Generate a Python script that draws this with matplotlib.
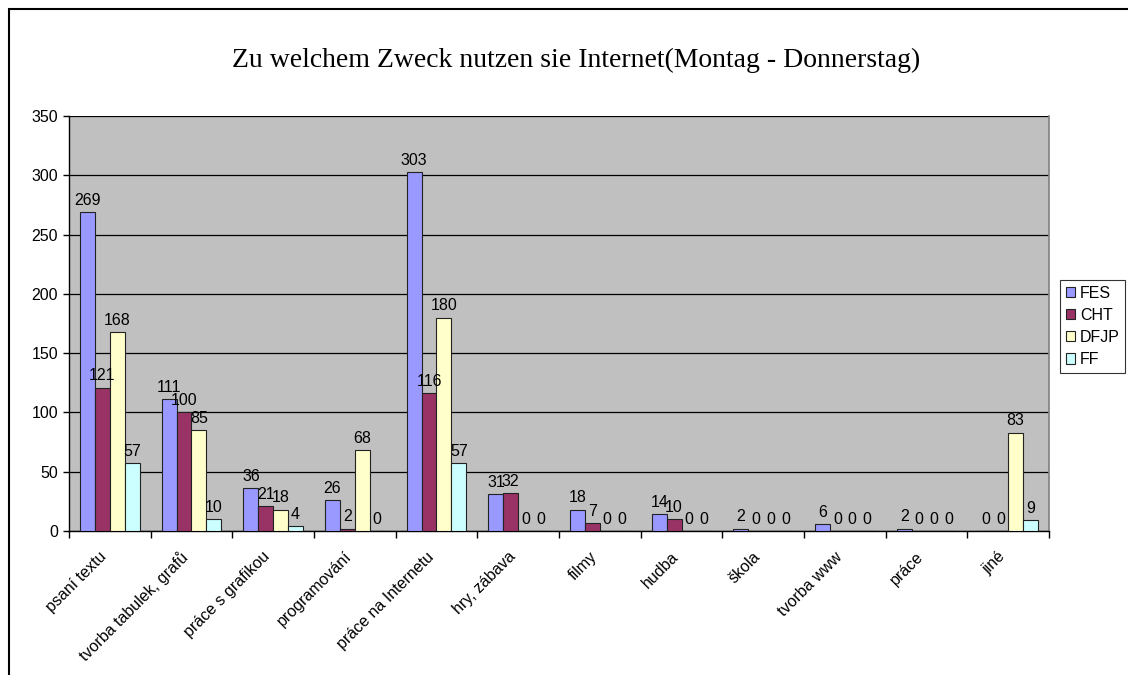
import numpy as np
import matplotlib
matplotlib.use("Agg")
import matplotlib.pyplot as plt
from matplotlib.patches import Rectangle

categories = ["psaní textu", "tvorba tabulek, grafů", "práce s grafikou", "programování",
              "práce na Internetu", "hry, zábava", "filmy", "hudba", "škola",
              "tvorba www", "práce", "jiné"]
series_names = ["FES", "CHT", "DFJP", "FF"]
fes = [269, 111, 36, 26, 303, 31, 18, 14, 2, 6, 2, 0]
cht = [121, 100, 21, 2, 116, 32, 7, 10, 0, 0, 0, 0]
dfjp = [168, 85, 18, 68, 180, 0, 0, 0, 0, 0, 0, 83]
ff = [57, 10, 4, 0, 57, 0, 0, 0, 0, 0, 0, 9]
colors = ["#9999FF", "#993366", "#FFFFCC", "#CCFFFF"]

plt.rcParams['font.family'] = ['Liberation Sans', 'DejaVu Sans']
fs = 11.5

W, H = 1128, 675
fig = plt.figure(figsize=(W / 100, H / 100), dpi=100)

# chart area border (Excel style)
fig.add_artist(Rectangle((9 / W, -0.1), 1.2, (H - 9) / H + 0.1, transform=fig.transFigure,
                         fill=False, edgecolor="black", linewidth=1.5))

# plot area: x 69..1049, y 116..531
ax = fig.add_axes([69 / W, 1 - 531 / H, (1049 - 69) / W, (531 - 116) / H])
ax.set_facecolor("#C0C0C0")

n = len(categories)
x = np.arange(n)
bw = 1 / 5.5
data = [fes, cht, dfjp, ff]
for i, (name, vals, c) in enumerate(zip(series_names, data, colors)):
    pos = x + (i - 1.5) * bw
    ax.bar(pos, vals, width=bw, color=c, edgecolor="#222222", linewidth=0.8,
           label=name, zorder=3)
    for p, v in zip(pos, vals):
        ax.annotate(str(v), (p, v), xytext=(0, 3), textcoords="offset points",
                    ha="center", va="bottom", fontsize=fs, zorder=4)

ax.set_xlim(-0.5, n - 0.5)
ax.set_ylim(0, 350)
ax.set_yticks(np.arange(0, 351, 50))
ax.yaxis.grid(True, color="black", linewidth=0.9, zorder=1)
ax.set_axisbelow(True)

ax.set_xticks(np.arange(n + 1) - 0.5)
ax.set_xticklabels([])
ax.set_xticks(x, minor=True)
ax.set_xticklabels(categories, minor=True, rotation=45, ha="right", fontsize=fs)
ax.tick_params(axis="x", which="major", direction="out", length=5, width=1)
ax.tick_params(axis="x", which="minor", length=0, pad=13)
ax.tick_params(axis="y", direction="out", length=4, width=1, labelsize=fs, pad=4)

ax.spines["top"].set_visible(False)
ax.spines["right"].set_color("#808080")
ax.spines["right"].set_linewidth(1.2)
ax.spines["left"].set_linewidth(1)
ax.spines["bottom"].set_linewidth(1)

fig.text(576 / W, 1 - 60 / H, "Zu welchem Zweck nutzen sie Internet(Montag - Donnerstag)",
         ha="center", va="center", fontsize=20, family=["Liberation Serif", "DejaVu Serif"])

leg = fig.legend(loc="upper left", bbox_to_anchor=(1060 / W, 1 - 280 / H),
                 frameon=True, fancybox=False, edgecolor="black", fontsize=fs,
                 handlelength=0.6, handleheight=0.6, handletextpad=0.3,
                 borderpad=0.35, labelspacing=0.45, borderaxespad=0)
leg.get_frame().set_linewidth(0.8)

fig.savefig("out.png", dpi=100)
